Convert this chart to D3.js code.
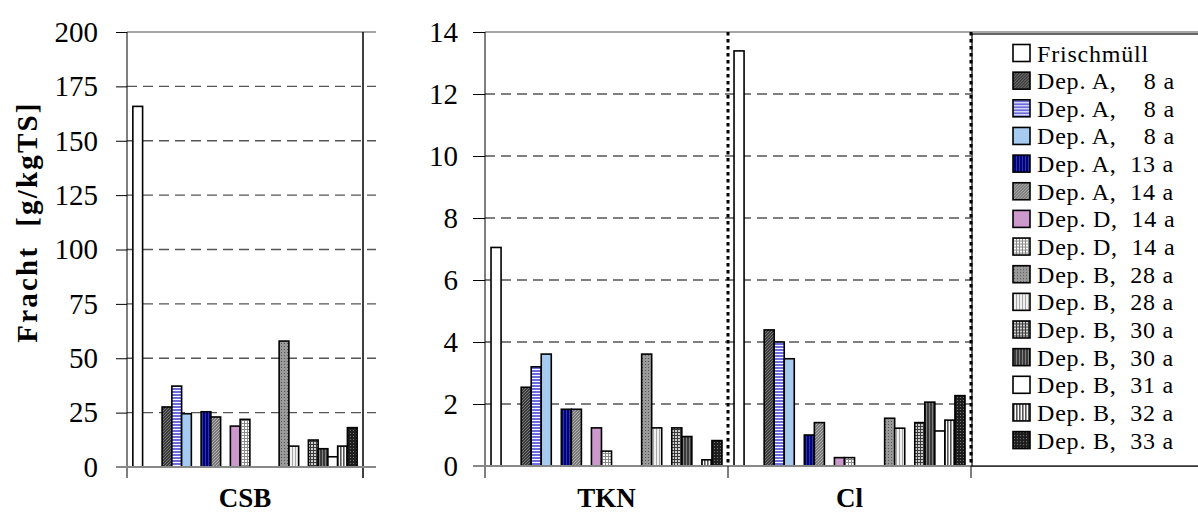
<!DOCTYPE html>
<html>
<head>
<meta charset="utf-8">
<script src="https://cdn.jsdelivr.net/npm/d3@7"></script>
<style>
  body { margin: 0; background: #fff; }
</style>
</head>
<body>
<svg id="chart" width="1198" height="527" font-family="Liberation Serif"></svg>
<script>
// series as shown in legend
const seriesNames = [
  "Frischmüll", "Dep. A,    8 a", "Dep. A,    8 a", "Dep. A,    8 a", "Dep. A,  13 a",
  "Dep. A,  14 a", "Dep. D,  14 a", "Dep. D,  14 a", "Dep. B,  28 a", "Dep. B,  28 a",
  "Dep. B,  30 a", "Dep. B,  30 a", "Dep. B,  31 a", "Dep. B,  32 a", "Dep. B,  33 a"
];
// order of series inside a category, null = empty spacer series
const slotSeries = [0, null, null, 1, 2, 3, null, 4, 5, null, 6, 7, null, null, null, 8, 9, null, 10, 11, 12, 13, 14];

const csbValues = [165.8, 27.6, 37.2, 24.5, 25.4, 23.0, 18.8, 21.9, 57.9, 9.6, 12.4, 8.4, 4.7, 9.6, 18.1];
const tknValues = [7.05, 2.54, 3.2, 3.61, 1.83, 1.83, 1.23, 0.48, 3.61, 1.23, 1.23, 0.95, null, 0.2, 0.82];
const clValues  = [13.39, 4.39, 4.0, 3.46, 1.0, 1.4, 0.27, 0.27, 1.54, 1.22, 1.4, 2.06, 1.13, 1.48, 2.27];

const leftCategories = ["CSB"];
const rightCategories = ["TKN", "Cl"];
const leftTicks = [0, 25, 50, 75, 100, 125, 150, 175, 200];
const rightTicks = [0, 2, 4, 6, 8, 10, 12, 14];
const yTitle = "Fracht  [g/kgTS]";

const FONT = "Liberation Serif";

const svg = d3.select("#chart");
const defs = svg.append("defs");

// fill patterns (excel-like)
function pat(id, base, draw, size = 3) {
  const p = defs.append("pattern").attr("id", id)
    .attr("patternUnits", "userSpaceOnUse").attr("width", size).attr("height", size);
  p.append("rect").attr("width", size).attr("height", size).attr("fill", base);
  draw(p);
  return `url(#${id})`;
}
const diag = (c) => (p) => p.append("path").attr("d", "M0,3 L3,0").attr("stroke", c).attr("stroke-width", 1);
const horiz = (c, w) => (p) => p.append("rect").attr("y", 0).attr("width", 3).attr("height", w).attr("fill", c);
const vert = (c, w) => (p) => p.append("rect").attr("x", 0).attr("width", w).attr("height", 3).attr("fill", c);
const grid = (c) => (p) => { p.append("rect").attr("width", 3).attr("height", 1).attr("fill", c); p.append("rect").attr("width", 1).attr("height", 3).attr("fill", c); };
const dots = (c) => (p) => p.append("rect").attr("x", 1).attr("y", 1).attr("width", 1).attr("height", 1).attr("fill", c);

const fills = [
  "#ffffff",
  pat("pDark", "#3c3c3c", diag("#777")),
  pat("pBlue", "#6b6bdc", horiz("#ffffff", 1)),
  "#a6caf0",
  pat("pNavy", "#000080", vert("#2a3a9a", 1)),
  pat("pGray", "#7a7a7a", diag("#b0b0b0")),
  "#cc99cc",
  pat("pCheck", "#ffffff", grid("#8a8a8a")),
  pat("pDotGray", "#9a9a9a", dots("#555")),
  pat("pLight", "#f0f0f0", vert("#a8a8a8", 1)),
  pat("pGrid", "#cfcfcf", grid("#3a3a3a")),
  pat("pDarkV", "#3a3a3a", vert("#808080", 1)),
  "#ffffff",
  pat("pVert", "#ffffff", vert("#555", 1.6)),
  pat("pDarkDot", "#1e1e1e", dots("#777"))
];

svg.append("rect").attr("width", 1198).attr("height", 527).attr("fill", "#fff");

// ---------- scales ----------
const xL = d3.scaleBand().domain(leftCategories).range([127, 363]);
const yL = d3.scaleLinear().domain([0, 200]).range([467, 32]);
const xR = d3.scaleBand().domain(rightCategories).range([485, 971]);
const yR = d3.scaleLinear().domain([0, 14]).range([466, 32]);

function inner(x) {
  return d3.scaleBand().domain(d3.range(slotSeries.length))
    .range([0, x.bandwidth()]).paddingOuter(0.6).paddingInner(0);
}

// ---------- frames & grids ----------
function panel(y, ticks, x0, gridEnd, tickSize, pad) {
  // dashed grid
  svg.append("g").selectAll("line").data(ticks.slice(1, -1)).enter().append("line")
    .attr("x1", x0).attr("x2", gridEnd)
    .attr("y1", (d) => y(d)).attr("y2", (d) => y(d))
    .attr("stroke", "#555").attr("stroke-width", 1.3).attr("stroke-dasharray", "10,6");
  // top border
  svg.append("line").attr("x1", x0).attr("x2", gridEnd)
    .attr("y1", y(ticks[ticks.length - 1])).attr("y2", y(ticks[ticks.length - 1]))
    .attr("stroke", "#888").attr("stroke-width", 1.5);

  const ax = svg.append("g").attr("transform", `translate(${x0},0)`)
    .call(d3.axisLeft(y).tickValues(ticks).tickSize(tickSize).tickPadding(pad).tickSizeOuter(0));
  ax.attr("font-family", FONT).attr("font-size", 29);
  ax.select(".domain").remove();
  ax.selectAll(".tick line").attr("stroke", "#000").attr("stroke-width", 1);
  ax.selectAll(".tick text").attr("fill", "#000");
  // vertical axis line, running below into the category ticks
  svg.append("line").attr("x1", x0).attr("x2", x0).attr("y1", y(ticks[ticks.length - 1])).attr("y2", 478)
    .attr("stroke", "#000").attr("stroke-width", 1);
}

panel(yL, leftTicks, 127, 376, 11, 18);
panel(yR, rightTicks, 485, 971, 12, 15);

// left panel right edge line
svg.append("line").attr("x1", 363).attr("x2", 363).attr("y1", 32).attr("y2", 478)
  .attr("stroke", "#000").attr("stroke-width", 1.5);

// ---------- bars ----------
function bars(x, y, cat, values) {
  const s = inner(x);
  const g = svg.append("g").attr("transform", `translate(${x(cat)},0)`);
  const items = slotSeries.map((si, k) => ({ k, si }))
    .filter((d) => d.si !== null && values[d.si] !== null);
  g.selectAll("rect").data(items).enter().append("rect")
    .attr("x", (d) => s(d.k))
    .attr("width", s.bandwidth())
    .attr("y", (d) => y(values[d.si]))
    .attr("height", (d) => y(0) - y(values[d.si]))
    .attr("fill", (d) => fills[d.si])
    .attr("stroke", "#000").attr("stroke-width", 1.6);
}
bars(xL, yL, "CSB", csbValues);
bars(xR, yR, "TKN", tknValues);
bars(xR, yR, "Cl", clValues);

// bottom axis lines
svg.append("line").attr("x1", 116).attr("x2", 376).attr("y1", yL(0)).attr("y2", yL(0))
  .attr("stroke", "#888").attr("stroke-width", 2);
svg.append("line").attr("x1", 473).attr("x2", 1198).attr("y1", yR(0)).attr("y2", yR(0))
  .attr("stroke", "#888").attr("stroke-width", 2);

// ---------- legend ----------
const lg = svg.append("g");
lg.append("rect").attr("x", 972).attr("y", 34).attr("width", 240).attr("height", 432)
  .attr("fill", "#fff").attr("stroke", "#000").attr("stroke-width", 1.2);
svg.append("line").attr("x1", 971).attr("x2", 1198).attr("y1", 32).attr("y2", 32)
  .attr("stroke", "#888").attr("stroke-width", 1.5);
const rows = lg.selectAll("g.item").data(seriesNames).enter().append("g")
  .attr("transform", (d, i) => `translate(1013,${53 + i * 27.65})`);
rows.append("rect").attr("x", 0).attr("y", -8.5).attr("width", 17).attr("height", 17)
  .attr("fill", (d, i) => fills[i]).attr("stroke", "#000").attr("stroke-width", 1.6);
rows.append("text").attr("x", 24).attr("y", 8.5)
  .attr("font-family", FONT).attr("font-size", 24).attr("letter-spacing", 0.8)
  .style("white-space", "pre")
  .text((d) => d);

// category separators (dotted) and ticks
svg.append("g").selectAll("line").data([xR("Cl"), 971]).enter().append("line")
  .attr("x1", (d) => d).attr("x2", (d) => d).attr("y1", 32).attr("y2", yR(0))
  .attr("stroke", "#000").attr("stroke-width", 3).attr("stroke-dasharray", "3.5,3.5");
svg.append("g").selectAll("line").data([xR("Cl"), 971]).enter().append("line")
  .attr("x1", (d) => d).attr("x2", (d) => d).attr("y1", yR(0)).attr("y2", 478)
  .attr("stroke", "#000").attr("stroke-width", 1);

// ---------- category labels ----------
svg.append("text").attr("x", xL("CSB") + xL.bandwidth() / 2).attr("y", 507)
  .attr("font-family", FONT)
  .attr("text-anchor", "middle").attr("font-size", 27).attr("font-weight", "bold").text("CSB");
svg.append("g").selectAll("text").data(rightCategories).enter().append("text")
  .attr("x", (d) => xR(d) + xR.bandwidth() / 2).attr("y", 507)
  .attr("font-family", FONT)
  .attr("text-anchor", "middle").attr("font-size", 27).attr("font-weight", "bold").text((d) => d);

// y title
svg.append("text").attr("transform", "translate(37,222) rotate(-90)")
  .attr("font-family", FONT)
  .attr("text-anchor", "middle").attr("font-size", 29).attr("font-weight", "bold")
  .attr("letter-spacing", 2.2)
  .style("white-space", "pre").text(yTitle);
</script>
</body>
</html>
